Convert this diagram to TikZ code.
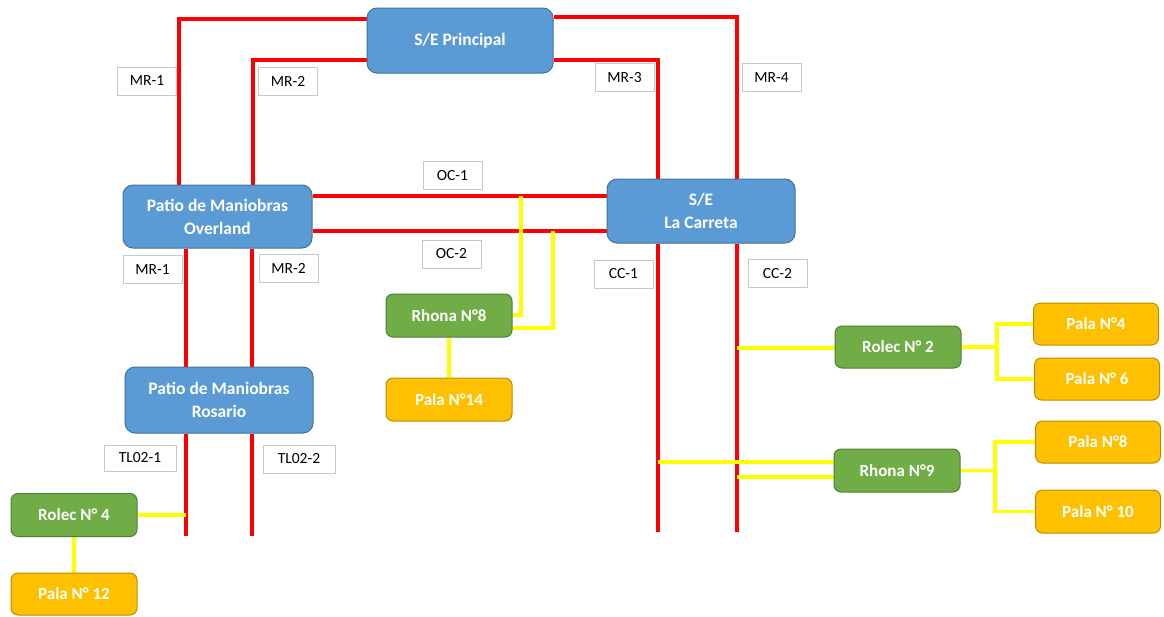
\documentclass[tikz,border=0pt]{standalone}
\usepackage{fontspec}
\setmainfont{Carlito}
\usetikzlibrary{backgrounds}
\definecolor{bfill}{HTML}{5B9BD5}
\definecolor{bline}{HTML}{41719C}
\definecolor{gfill}{HTML}{70AD47}
\definecolor{gline}{HTML}{507E32}
\definecolor{ofill}{HTML}{FFC000}
\definecolor{oline}{HTML}{BC8C00}
\definecolor{lbline}{HTML}{C8C8C8}
\definecolor{rline}{HTML}{FF0000}
\definecolor{yline}{HTML}{FFFF00}
\begin{document}
\begin{tikzpicture}[x=1pt,y=-1pt,
  mainbox/.style={draw=bline,line width=1pt,fill=bfill,rounded corners=10pt,text=white,align=center,
    font=\fontsize{17.5}{23}\selectfont\bfseries,inner sep=0pt},
  greenbox/.style={draw=gline,line width=1pt,fill=gfill,rounded corners=7pt,text=white,align=center,
    font=\fontsize{17}{19}\selectfont\bfseries,inner sep=0pt,minimum width=126pt,minimum height=43pt},
  orangebox/.style={draw=oline,line width=1pt,fill=ofill,rounded corners=7pt,text=white,align=center,
    font=\fontsize{17}{19}\selectfont\bfseries,inner sep=0pt,minimum width=125pt,minimum height=42pt},
  lbl/.style={draw=lbline,line width=0.8pt,fill=white,text=black,inner sep=0pt,
    font=\fontsize{15.5}{17}\selectfont,minimum width=59pt,minimum height=28pt},
  redw/.style={draw=rline,line width=4.2pt},
  yelw/.style={draw=yline,line width=3.5pt}]
\useasboundingbox (0,0) rectangle (1164,616);
% main nodes
\node[mainbox,minimum width=186pt,minimum height=65pt] (sep) at (460,40.5) {S/E Principal};
\node[mainbox,minimum width=189pt,minimum height=63pt] (ov) at (217.5,216.5) {Patio de Maniobras\\Overland};
\node[mainbox,minimum width=188pt,minimum height=64pt] (lc) at (701,211) {S/E\\La Carreta};
\node[mainbox,minimum width=188pt,minimum height=66pt] (ro) at (219,400) {Patio de Maniobras\\Rosario};
% green and orange nodes
\node[greenbox] (rolec4) at (74,515) {Rolec N° 4};
\node[orangebox,minimum width=126pt] (pala12) at (74,594) {Pala N° 12};
\node[greenbox] (rhona8) at (449,315.5) {Rhona N°8};
\node[orangebox,minimum width=126pt,minimum height=43pt] (pala14) at (449,399.5) {Pala N°14};
\node[greenbox,minimum height=42pt] (rolec2) at (898,347) {Rolec N° 2};
\node[orangebox] (pala4) at (1096,324) {Pala N°4};
\node[orangebox] (pala6) at (1097,379) {Pala N° 6};
\node[orangebox] (pala8) at (1098,442) {Pala N°8};
\node[orangebox,minimum height=43pt] (pala10) at (1098,511.5) {Pala N° 10};
\node[greenbox] (rhona9) at (897,470.5) {Rhona N°9};
% labels
\node[lbl] (lmr1) at (147,81) {MR-1};
\node[lbl] (lmr2) at (288,81) {MR-2};
\node[lbl] (lmr3) at (624.5,77.5) {MR-3};
\node[lbl] (lmr4) at (771.5,77.5) {MR-4};
\node[lbl] (loc1) at (452.5,175.5) {OC-1};
\node[lbl] (loc2) at (451.5,254) {OC-2};
\node[lbl] (lcc1) at (623.5,274) {CC-1};
\node[lbl] (lcc2) at (777.5,273.5) {CC-2};
\node[lbl] (lmr1b) at (152.5,269.5) {MR-1};
\node[lbl] (lmr2b) at (288.5,268.5) {MR-2};
\node[lbl,minimum width=72pt,minimum height=26pt] (ltl1) at (140,458) {TL02-1};
\node[lbl,minimum width=72pt,minimum height=28pt] (ltl2) at (299,459) {TL02-2};
% free ends
\coordinate (e1) at (186,536);
\coordinate (e2) at (252,536);
\coordinate (e3) at (658,532);
\coordinate (e4) at (737,532);
\begin{scope}[on background layer]
% red lines
\draw[redw] (sep.west |- 0,19) -- (179,19) -- (179,0 |- ov.north);
\draw[redw] (sep.west |- 0,60) -- (253,60) -- (253,0 |- ov.north);
\draw[redw] (sep.east |- 0,60) -- (658,60) -- (658,0 |- lc.north);
\draw[redw] (sep.east |- 0,17) -- (737,17) -- (737,0 |- lc.north);
\draw[redw] (ov.east |- 0,196) -- (lc.west |- 0,196);
\draw[redw] (ov.east |- 0,231) -- (lc.west |- 0,231);
\draw[redw] (186,0 |- ov.south) -- (186,0 |- ro.north);
\draw[redw] (252,0 |- ov.south) -- (252,0 |- ro.north);
\draw[redw] (186,0 |- ro.south) -- (e1);
\draw[redw] (252,0 |- ro.south) -- (e2);
\draw[redw] (658,0 |- lc.south) -- (e3);
\draw[redw] (737,0 |- lc.south) -- (e4);
% yellow lines
\draw[yelw] (rolec4.east) -- (186,0 |- rolec4.east);
\draw[yelw] (rolec4.south) -- (pala12.north);
\draw[yelw] (rhona8.east |- 0,315) -- (521,315) -- (521,196);
\draw[yelw] (rhona8.east |- 0,328) -- (553,328) -- (553,231);
\draw[yelw] (rhona8.south) -- (pala14.north);
\draw[yelw] (737,348) -- (rolec2.west |- 0,348);
\draw[yelw] (rolec2.east) -- (997,0 |- rolec2.east);
\draw[yelw] (pala4.west) -| (997,350) |- (pala6.west);
\draw[yelw] (658,462) -- (rhona9.west |- 0,462);
\draw[yelw] (737,477) -- (rhona9.west |- 0,477);
\draw[yelw] (rhona9.east) -- (995,0 |- rhona9.east);
\draw[yelw] (pala8.west) -| (995,470) |- (pala10.west);
\end{scope}
\end{tikzpicture}
\end{document}
